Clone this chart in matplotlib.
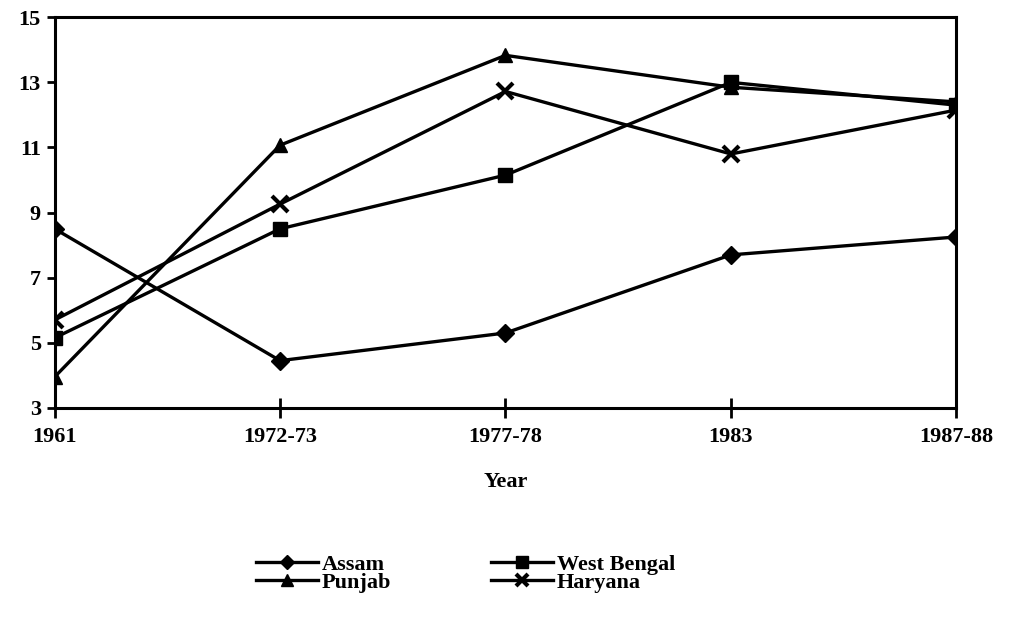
import matplotlib.pyplot as plt

years = ['1961', '1972-73', '1977-78', '1983', '1987-88']
assam = [8.5, 4.45, 5.3, 7.7, 8.25]
west_bengal = [5.15, 8.5, 10.15, 13.0, 12.3]
punjab = [3.95, 11.07, 13.83, 12.85, 12.4]
haryana = [5.7, 9.26, 12.72, 10.8, 12.15]

plt.rcParams['font.family'] = ['Liberation Serif', 'DejaVu Serif']
plt.rcParams['font.weight'] = 'bold'

fig = plt.figure(figsize=(10.12, 6.17), dpi=100)
ax = fig.add_axes([0.054, 0.339, 0.891, 0.633])

x = range(len(years))
ax.plot(x, assam, color='black', lw=2.4, marker='D', ms=9, label='Assam')
ax.plot(x, west_bengal, color='black', lw=2.4, marker='s', ms=10, label='West Bengal')
ax.plot(x, punjab, color='black', lw=2.4, marker='^', ms=10, label='Punjab')
ax.plot(x, haryana, color='black', lw=2.4, marker='x', ms=11, mew=3, label='Haryana')

ax.set_xlim(0, len(years) - 1)
ax.set_ylim(3, 15)
ax.set_yticks(range(3, 16, 2))
ax.set_xticks(list(x))
ax.set_xticklabels(years)
for s in ax.spines.values():
    s.set_linewidth(2.2)
ax.tick_params(axis='x', direction='inout', length=14, width=2, labelsize=16, pad=7)
ax.tick_params(axis='y', direction='out', length=6, width=2, labelsize=16, pad=4)
for lab in ax.get_xticklabels() + ax.get_yticklabels():
    lab.set_fontweight('bold')

ax.set_xlabel('Year', fontsize=16, fontweight='bold', labelpad=18)

# legend order: Assam, Punjab in first column; West Bengal, Haryana in second
h, l = ax.get_legend_handles_labels()
order = [0, 2, 1, 3]
leg = fig.legend([h[i] for i in order], [l[i] for i in order], ncol=2,
                 loc='center', bbox_to_anchor=(0.46, 0.07), frameon=False,
                 handlelength=2.8, handletextpad=0.15, markerscale=0.8,
                 columnspacing=4.5, labelspacing=-0.1,
                 prop={'weight': 'bold', 'size': 16})

fig.savefig('out.png', dpi=100)
